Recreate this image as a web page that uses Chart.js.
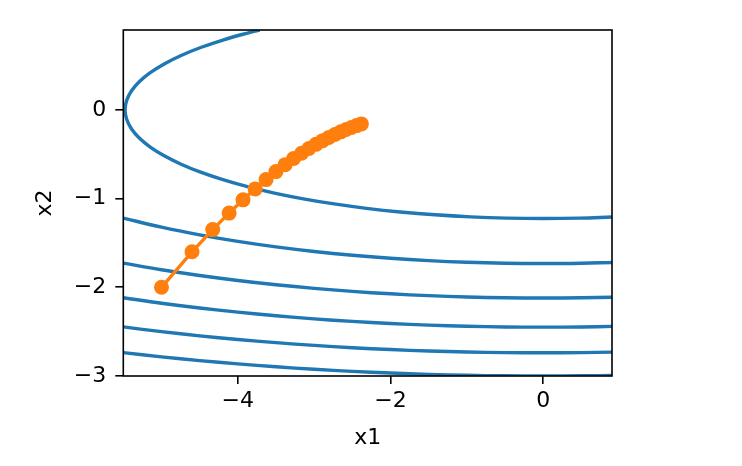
<!DOCTYPE html>
<html lang="en">
<head>
  <meta charset="UTF-8">
  <title>Adagrad trajectory</title>
  <script src="https://cdn.jsdelivr.net/npm/chart.js"></script>
  <style>
    body { margin: 0; background: #fff; }
  </style>
</head>
<body>
<canvas id="plot" width="742" height="466"></canvas>
<script>
// optimizer path, x1 / x2 per epoch
const trajX = [-5, -4.6, -4.3292, -4.1142, -3.9323, -3.7728, -3.6299, -3.4999, -3.3803, -3.2693, -3.1656,
  -3.0682, -2.9764, -2.8894, -2.8068, -2.7281, -2.6530, -2.5811, -2.5122, -2.4461, -2.3826];
const trajY = [-2, -1.6, -1.3501, -1.1636, -1.0144, -0.8908, -0.7860, -0.6959, -0.6176, -0.5492, -0.4891,
  -0.4360, -0.3890, -0.3473, -0.3103, -0.2773, -0.2478, -0.2216, -0.1982, -0.1773, -0.1586];

// contour level 3 (the ellipse that wraps round the left edge)
const level3X = [-3.715, -3.873, -4.196, -4.487, -4.743, -4.964, -5.147, -5.291, -5.394, -5.456, -5.477,
  -5.456, -5.394, -5.291, -5.147, -4.964, -4.743, -4.487, -4.196, -3.873, -3.521, -3.142, -2.739,
  -2.315, -1.873, -1.418, -0.951, -0.477, 0, 0.477, 0.9];
const level3Y = [0.9, 0.866, 0.787, 0.7025, 0.6124, 0.5176, 0.4189, 0.317, 0.2127, 0.1067, 0,
  -0.1067, -0.2127, -0.317, -0.4189, -0.5176, -0.6124, -0.7025, -0.787, -0.866, -0.9382, -1.0033, -1.0606,
  -1.11, -1.1509, -1.183, -1.2061, -1.22, -1.2247, -1.22, -1.2081];

// the lower contours (levels 6..18), all sampled at the same x1
const lowerX = [-5.5, -5, -4.5, -4, -3.5, -3, -2.5, -2, -1.5, -1, -0.5, 0, 0.5, 0.9];
const level6Y = [-1.2196, -1.3229, -1.4098, -1.4832, -1.5452, -1.5969, -1.6394, -1.6733, -1.6993, -1.7176, -1.7285, -1.7321, -1.7285, -1.7203];
const level9Y = [-1.7284, -1.8028, -1.8675, -1.9235, -1.9717, -2.0125, -2.0463, -2.0736, -2.0946, -2.1095, -2.1184, -2.1213, -2.1184, -2.1118];
const level12Y = [-2.1184, -2.1794, -2.2333, -2.2804, -2.3211, -2.3558, -2.3848, -2.4083, -2.4264, -2.4393, -2.4469, -2.4495, -2.4469, -2.4412];
const level15Y = [-2.4469, -2.5, -2.5471, -2.5884, -2.6244, -2.6552, -2.681, -2.7019, -2.718, -2.7295, -2.7363, -2.7386, -2.7363, -2.7312];
const level18Y = [-2.7363, -2.7839, -2.8262, -2.8636, -2.8961, -2.924, -2.9475, -2.9665, -2.9812, -2.9917, -2.9979, -3.0, -2.9979, -2.9932];

const xTicks = [-4, -2, 0];
const yTicks = [-3, -2, -1, 0];

const blue = '#1f77b4';
const orange = '#ff7f0e';

function pts(xs, ys) {
  return xs.map((x, i) => ({ x: x, y: ys[i] }));
}
function contour(xs, ys) {
  return {
    data: pts(xs, ys),
    showLine: true,
    borderColor: blue,
    borderWidth: 3.4,
    pointRadius: 0,
    tension: 0.4,
    order: 1,
  };
}
const fmt = (v) => String(v).replace('-', '\u2212');

// matplotlib style box round the plot area
const frame = {
  id: 'frame',
  afterDraw(chart) {
    const a = chart.chartArea, ctx = chart.ctx;
    ctx.save();
    ctx.strokeStyle = '#000';
    ctx.lineWidth = 1.6;
    ctx.strokeRect(a.left, a.top, a.right - a.left, a.bottom - a.top);
    ctx.restore();
  }
};

Chart.defaults.font.family = 'DejaVu Sans';
Chart.defaults.color = '#000';

new Chart(document.getElementById('plot'), {
  type: 'scatter',
  data: {
    datasets: [
      {
        data: pts(trajX, trajY),
        showLine: true,
        borderColor: orange,
        backgroundColor: orange,
        borderWidth: 3.4,
        pointRadius: 7.5,
        pointBorderWidth: 0,
        order: 0,
      },
      contour(level3X, level3Y),
      contour(lowerX, level6Y),
      contour(lowerX, level9Y),
      contour(lowerX, level12Y),
      contour(lowerX, level15Y),
      contour(lowerX, level18Y),
    ],
  },
  options: {
    responsive: false,
    animation: false,
    layout: { padding: { left: 0, top: 30, right: 130, bottom: 0 } },
    plugins: { legend: { display: false }, tooltip: { enabled: false } },
    scales: {
      x: {
        min: -5.5, max: 0.9,
        afterFit(s) { s.height = 90; },
        afterBuildTicks(s) { s.ticks = xTicks.map(v => ({ value: v })); },
        grid: { drawOnChartArea: false, drawTicks: true, tickLength: 8, color: '#000', lineWidth: 1.6 },
        border: { display: false },
        ticks: { font: { size: 22 }, padding: 4, callback: fmt, maxRotation: 0 },
        title: { display: true, text: 'x1', font: { size: 22 }, padding: { top: 0, bottom: 15 } },
      },
      y: {
        min: -3, max: 0.9,
        afterFit(s) { s.width = 123.3; },
        afterBuildTicks(s) { s.ticks = yTicks.map(v => ({ value: v })); },
        grid: { drawOnChartArea: false, drawTicks: true, tickLength: 8, color: '#000', lineWidth: 1.6 },
        border: { display: false },
        ticks: { font: { size: 22 }, padding: 9, callback: fmt },
        title: { display: true, text: 'x2', font: { size: 22 }, padding: { top: 32, bottom: 0 } },
      },
    },
  },
  plugins: [frame],
});
</script>
</body>
</html>
